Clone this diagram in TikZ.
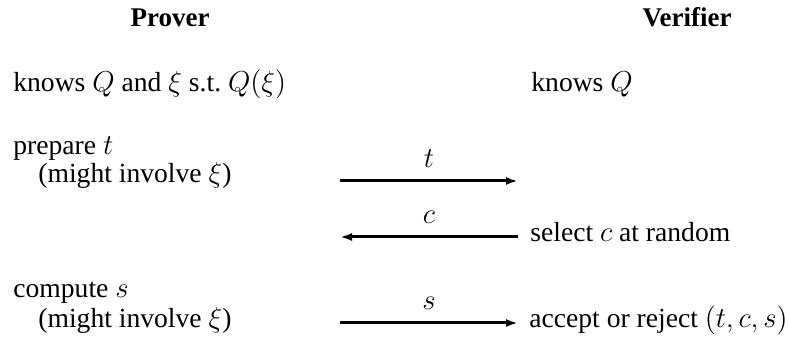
\documentclass[tikz,border=0pt]{standalone}
\usepackage{fontspec}
\setmainfont{Liberation Serif}
\usetikzlibrary{arrows.meta,positioning}

\begin{document}
\fontsize{13.8}{16}\selectfont
\begin{tikzpicture}[x=0.5pt, y=-0.5pt,
    party/.style={font=\fontsize{13.5}{16}\selectfont\bfseries, anchor=base, inner sep=0pt},
    action/.style={anchor=base west, inner sep=0pt},
    msg/.style={-{Latex[length=6pt,width=4pt]}, line width=1.5pt},
    lbl/.style={anchor=base, inner sep=0pt, yshift=6.5pt}
]
\useasboundingbox (0,0) rectangle (789,340);

% Parties
\node[party] (prover) at (170,27) {Prover};
\node[party] (verifier) at (687,27) {Verifier};

% Prover side
\node[action] (pknows) at (13,92) {knows $Q$ and $\xi$ s.t.\ $Q(\xi)$};
\node[action] (prep) at (13,155) {prepare $t$};
\node[action] (prepnote) at (38,183) {(might involve $\xi$)};
\node[action] (comp) at (13,298) {compute $s$};
\node[action] (compnote) at (38,328) {(might involve $\xi$)};

% Verifier side
\node[action] (vknows) at (531,92) {knows $Q$};
\node[action] (select) at (530,242) {select $c$ at random};
\node[action] (accept) at (529,328) {accept or reject $(t, c, s)$};

% Message ends
\coordinate (tfrom) at (340,181);
\coordinate (tto) at (518,181);
\coordinate (cfrom) at (518,237);
\coordinate (cto) at (340,237);
\coordinate (sfrom) at (340,323);
\coordinate (sto) at (518,323);

% Messages
\draw[msg] (tfrom) -- node[lbl] {$t$} (tto);
\draw[msg] (cfrom) -- node[lbl] {$c$} (cto);
\draw[msg] (sfrom) -- node[lbl] {$s$} (sto);

\end{tikzpicture}
\end{document}
